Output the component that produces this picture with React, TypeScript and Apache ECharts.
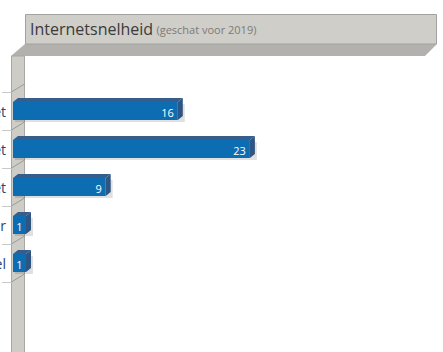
import React, { useEffect, useRef } from "react";
import * as echarts from "echarts";

const categories = [
  "Zeer snel internet",
  "Snel internet",
  "Traag internet",
  "Alleen satelliet of koper",
  "Alleen mobiel",
];
const values = [16, 23, 9, 1, 1];
const titleMain = "Internetsnelheid";
const titleSub = "(geschat voor 2019)";

export default function App() {
  const ref = useRef<HTMLDivElement>(null);
  useEffect(() => {
    if (!ref.current) return;
    const chart = echarts.init(ref.current, null, { renderer: "svg" });
    const front = "#0d6db3";
    const shade = "#365d8c";
    const option: any = {
      animation: false,
      grid: {
        left: 13,
        right: 18,
        top: 92,
        bottom: 70,
        containLabel: false,
        outerBoundsMode: "none",
      },
      xAxis: {
        type: "value",
        min: 0,
        max: 40,
        show: false,
      },
      yAxis: {
        type: "category",
        data: categories,
        inverse: true,
        offset: 2,
        axisLine: { show: false },
        axisTick: { show: true, length: 11, lineStyle: { color: "#c9c9c9", width: 1 } },
        axisLabel: {
          margin: 5,
          color: "#2b4270",
          fontSize: 14,
          fontFamily: "Open Sans",
        },
        splitLine: { show: false },
      },
      graphic: [
        {
          type: "polygon",
          z: 0,
          shape: { points: [[25, 44], [437, 44], [425, 56], [11, 56]] },
          style: { fill: "#b3b1ad" },
        },
        {
          type: "rect",
          z: 0,
          shape: { x: 25.5, y: 14.5, width: 411, height: 29.5 },
          style: { fill: "#cfcec9", stroke: "#a4a29e", lineWidth: 1 },
        },
        {
          type: "text",
          z: 1,
          x: 30,
          y: 29,
          style: {
            text: "{a|" + titleMain + "} {b|" + titleSub + "}",
            verticalAlign: "middle",
            rich: {
              a: { fontSize: 16, fill: "#3b3b3b", fontFamily: "Open Sans" },
              b: { fontSize: 11, fill: "#7d7b78", fontFamily: "Open Sans" },
            },
          },
        },
        {
          type: "rect",
          z: 0,
          shape: { x: 11.5, y: 56, width: 13, height: 300 },
          style: { fill: "#cdccc7", stroke: "#a9a7a3", lineWidth: 1 },
        },
      ],
      series: [
        {
          type: "custom",
          z: 3,
          encode: { x: 0, y: 1 },
          data: values.map((v, i) => [v, i]),
          renderItem: (params: any, api: any) => {
            const v = api.value(0);
            const ci = api.value(1);
            const end = api.coord([v, ci]);
            const start = api.coord([0, ci]);
            const band = api.size([0, 1])[1];
            const h = 18;
            const dx = 5;
            const dy = -4;
            const x0 = start[0];
            const x1 = Math.max(end[0], x0 + 13);
            const yc = end[1];
            const top = yc - h / 2;
            const bot = yc + h / 2;
            const pl = x0 - 1.5;
            const pr = x0 + 11.5;
            const bTop = yc - band / 2;
            const children: any[] = [
              {
                type: "line",
                shape: { x1: pl, y1: bTop, x2: pr, y2: bTop - 8 },
                style: { stroke: "#8f8d89", lineWidth: 0.8 },
              },
            ];
            if (params.dataIndex === values.length - 1) {
              const bBot = yc + band / 2;
              children.push({
                type: "line",
                shape: { x1: pl, y1: bBot, x2: pr, y2: bBot - 8 },
                style: { stroke: "#8f8d89", lineWidth: 0.8 },
              });
            }
            children.push(
              {
                type: "rect",
                shape: { x: x0 + 2, y: top + 2, width: x1 - x0 + dx, height: h },
                style: { fill: "rgba(0,0,0,0.12)" },
              },
              {
                type: "polygon",
                shape: { points: [[x0, top], [x0 + dx, top + dy], [x1 + dx, top + dy], [x1, top]] },
                style: { fill: shade },
              },
              {
                type: "polygon",
                shape: { points: [[x1, top], [x1 + dx, top + dy], [x1 + dx, bot + dy], [x1, bot]] },
                style: { fill: "#2f5582" },
              },
              {
                type: "rect",
                shape: { x: x0, y: top, width: x1 - x0, height: h },
                style: { fill: front },
              },
              {
                type: "text",
                x: x1 - x0 > 20 ? x1 - 4 : (x0 + x1) / 2,
                y: yc + 1,
                style: {
                  text: String(v),
                  fill: "#ffffff",
                  fontSize: 11,
                  fontFamily: "Open Sans",
                  align: x1 - x0 > 20 ? "right" : "center",
                  verticalAlign: "middle",
                },
              }
            );
            return { type: "group", children };
          },
        },
      ],
    };
    chart.setOption(option);
    return () => chart.dispose();
  }, []);
  return (
    <div
      ref={ref}
      style={{ position: "absolute", left: 0, top: 0, width: 443, height: 352, background: "#ffffff" }}
    />
  );
}
